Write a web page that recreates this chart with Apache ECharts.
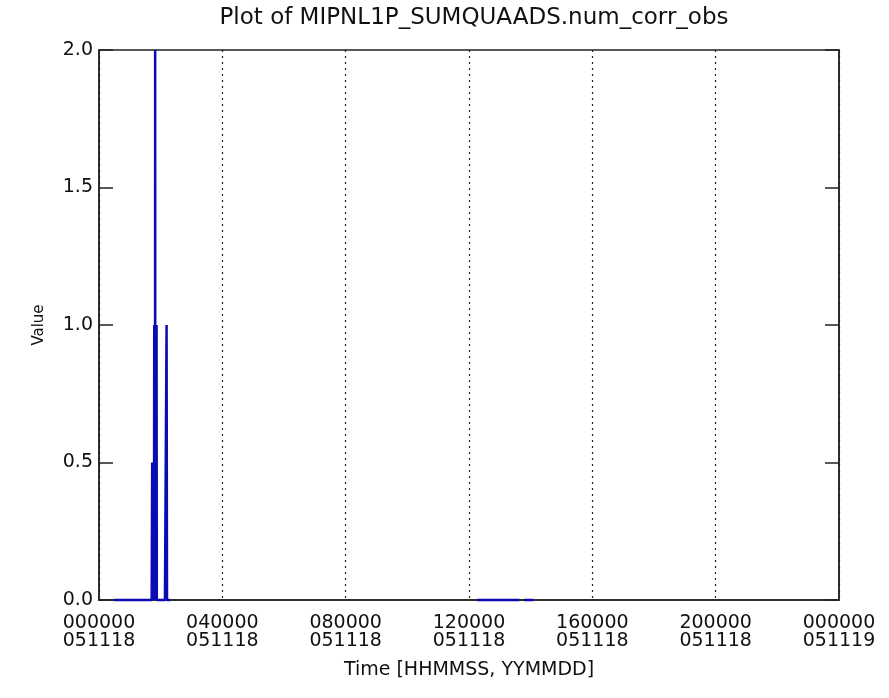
<!DOCTYPE html>
<html>
<head>
<meta charset="utf-8">
<script src="https://cdn.jsdelivr.net/npm/echarts/dist/echarts.min.js"></script>
<style>
html,body{margin:0;padding:0;background:#fff;}
#chart{width:889px;height:698px;}
</style>
</head>
<body>
<div id="chart"></div>
<script>
// Time in seconds since 000000 on 051118; null breaks the line
var times = [
  1760, 3000, 4500, 6150, 6180, 6210, 6240, 6270, 6300, 6330, 6360, 6390, 6420,
  6450, 6480, 6510, 6540, 6556, 6570, 6600, 6630, 6660, 6690, 6720, 6750,
  7000, 7700, 7880, 7890, 7930, 7940, 8310,
  8400,
  44140, 46000, 48000, 49070,
  49300,
  49640, 50200, 50690
];
var values = [
  0, 0, 0, 0, 0, 0.5, 0, 0.5, 0, 0.5, 0, 0.5, 0,
  1, 0, 1, 0, 2, 0, 1, 0, 1, 0, 1, 0,
  0, 0, 0, 1, 1, 0, 0,
  null,
  0, 0, 0, 0,
  null,
  0, 0, 0
];
var xTickLabels = [
  '000000\n051118', '040000\n051118', '080000\n051118', '120000\n051118',
  '160000\n051118', '200000\n051118', '000000\n051119'
];

var seriesData = times.map(function (t, i) { return [t, values[i]]; });

var FONT = 'DejaVu Sans';
var chart = echarts.init(document.getElementById('chart'), null, {renderer: 'canvas'});
chart.setOption({
  backgroundColor: '#ffffff',
  animation: false,
  title: {
    text: 'Plot of MIPNL1P_SUMQUAADS.num_corr_obs',
    left: 469,
    textAlign: 'center',
    top: 2,
    textStyle: {fontFamily: FONT, fontSize: 23, fontWeight: 'normal', color: '#111'}
  },
  grid: {
    left: 99, right: 50, top: 50, bottom: 98,
    show: true, borderColor: '#222', borderWidth: 1.5, backgroundColor: 'transparent'
  },
  xAxis: [{
    type: 'value',
    min: 0, max: 86400, interval: 14400,
    name: 'Time [HHMMSS, YYMMDD]',
    nameLocation: 'middle',
    nameGap: 61,
    nameTextStyle: {fontFamily: FONT, fontSize: 19, color: '#111'},
    axisLine: {show: true, lineStyle: {color: '#222', width: 1.5}},
    axisTick: {show: false},
    splitLine: {show: true, lineStyle: {color: '#222', width: 1.2, type: [2, 4]}},
    axisLabel: {
      fontFamily: FONT, fontSize: 19, color: '#111', lineHeight: 18, margin: 14,
      formatter: function (v) { return xTickLabels[Math.round(v / 14400)]; }
    }
  }],
  yAxis: [{
    type: 'value',
    min: 0, max: 2, interval: 0.5,
    name: 'Value',
    nameLocation: 'middle',
    nameGap: 52,
    nameTextStyle: {fontFamily: FONT, fontSize: 15, color: '#111'},
    axisLine: {show: true, lineStyle: {color: '#222', width: 1.5}},
    axisTick: {show: true, inside: true, length: 14, lineStyle: {color: '#222', width: 1.5}},
    splitLine: {show: false},
    axisLabel: {
      fontFamily: FONT, fontSize: 19, color: '#111', margin: 6,
      formatter: function (v) { return v.toFixed(1); }
    }
  }, {
    type: 'value',
    min: 0, max: 2, interval: 0.5,
    position: 'right',
    axisLine: {show: true, lineStyle: {color: '#222', width: 1.5}},
    axisTick: {show: true, inside: true, length: 14, lineStyle: {color: '#222', width: 1.5}},
    splitLine: {show: false},
    axisLabel: {show: false}
  }],
  series: [{
    type: 'line',
    data: seriesData,
    xAxisIndex: 0, yAxisIndex: 0,
    showSymbol: false,
    connectNulls: false,
    clip: false,
    lineStyle: {color: '#0b0bb4', width: 2.5},
    itemStyle: {color: '#0b0bb4'},
    z: 5
  }]
});
</script>
</body>
</html>
